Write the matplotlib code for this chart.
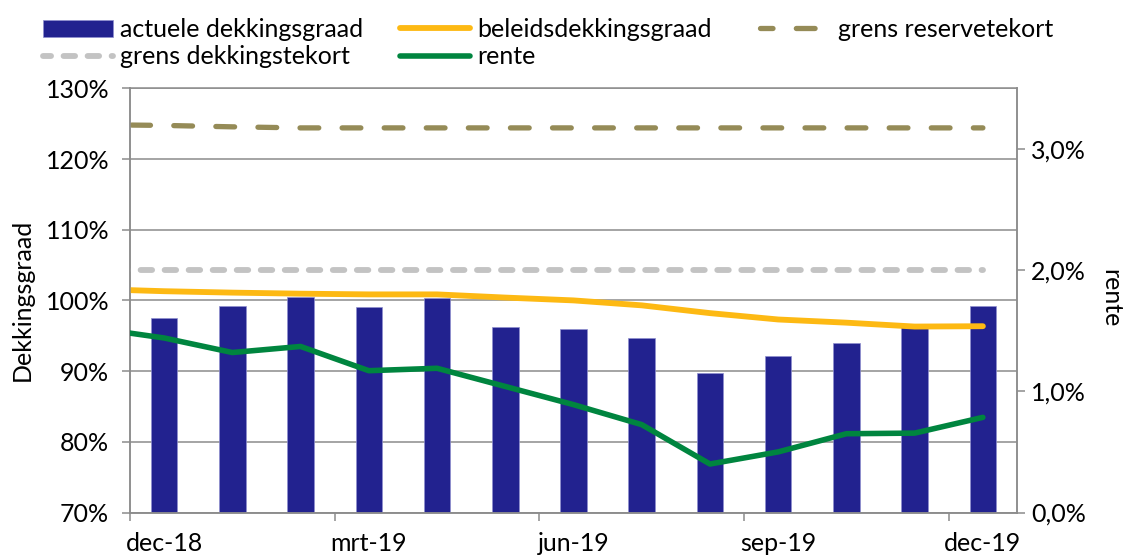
#!/usr/bin/env python3
"""Dekkingsgraad en rente, dec-18 t/m dec-19."""
import numpy as np
import matplotlib
matplotlib.use("Agg")
import matplotlib.pyplot as plt
from matplotlib.ticker import FuncFormatter, FixedLocator

plt.rcParams["font.family"] = ["Lato", "DejaVu Sans"]
plt.rcParams["lines.scale_dashes"] = False

# bars: one value per month
months = ["dec-18", "jan-19", "feb-19", "mrt-19", "apr-19", "mei-19", "jun-19",
          "jul-19", "aug-19", "sep-19", "okt-19", "nov-19", "dec-19"]
actuele_dg = [97.45, 99.15, 100.45, 99.05, 100.3, 96.2, 95.9,
              94.75, 89.75, 92.1, 94.0, 96.3, 99.2]

# line series start one month earlier (nov-18), clipped at the axis edge
line_months = ["nov-18"] + months
beleids_dg = [101.6, 101.3, 101.1, 100.95, 100.85, 100.85, 100.4, 100.0,
              99.3, 98.2, 97.3, 96.85, 96.3, 96.35]
grens_reserve = [124.85, 124.75, 124.55, 124.4, 124.4, 124.4, 124.4, 124.4,
                 124.4, 124.4, 124.4, 124.4, 124.4, 124.4]
grens_dekking = [104.3] * 14
rente = [1.52, 1.44, 1.32, 1.37, 1.17, 1.19, 1.04, 0.89,
         0.725, 0.40, 0.50, 0.65, 0.655, 0.785]

label_months = ["dec-18", "mrt-19", "jun-19", "sep-19", "dec-19"]

COLORS = {
    "bar": "#22228F",
    "beleid": "#FDB913",
    "reserve": "#958B57",
    "dekking": "#C3C3C3",
    "rente": "#00853F",
    "axis": "#8C8C8C",
}
FS = 18

fig = plt.figure(figsize=(11.29, 5.57), dpi=100)
ax = fig.add_axes([130 / 1129, 1 - 512.5 / 557, 887 / 1129, 424.2 / 557])
ax2 = ax.twinx()

x = np.arange(len(months))
lx = np.arange(len(line_months)) - 1

bars = ax.bar(x, actuele_dg, width=0.39, color=COLORS["bar"],
              edgecolor="#8f8fcf", linewidth=0.5, zorder=2,
              label="actuele dekkingsgraad")
ln_dek, = ax.plot(lx, grens_dekking, color=COLORS["dekking"], lw=4.2,
                  linestyle=(2.5, (8.3, 9.0)), dash_capstyle="round", zorder=3,
                  label="grens dekkingstekort")
ln_res, = ax.plot(lx, grens_reserve, color=COLORS["reserve"], lw=3.8,
                  linestyle=(4.5, (13.5, 16.8)), dash_capstyle="round", zorder=3,
                  label="grens reservetekort")
ln_bel, = ax.plot(lx, beleids_dg, color=COLORS["beleid"], lw=4.2,
                  solid_capstyle="round", zorder=4, label="beleidsdekkingsgraad")
ln_ren, = ax2.plot(lx, rente, color=COLORS["rente"], lw=4.0,
                   solid_capstyle="round", zorder=4, label="rente")

ax.set_xlim(-0.5, len(months) - 0.5)
ax.set_ylim(70, 130)
ax2.set_ylim(0, 3.5)

# left axis
ax.set_yticks(np.arange(70, 131, 10))
ax.yaxis.set_major_formatter(FuncFormatter(lambda v, p: f"{v:.0f}%"))
ax.grid(axis="y", color=COLORS["axis"], lw=1.1, zorder=0)
ax.set_axisbelow(True)
ax.tick_params(axis="y", length=6, width=1.1, color=COLORS["axis"], pad=9,
               labelsize=FS)

# right axis
ax2.set_yticks([0, 1, 2, 3])
ax2.yaxis.set_major_formatter(
    FuncFormatter(lambda v, p: f"{v:.1f}%".replace(".", ",")))
ax2.tick_params(axis="y", length=6, width=1.1, color=COLORS["axis"], pad=4,
                labelsize=FS)

# x axis: tick marks between quarters, labels on the month itself
ax.xaxis.set_major_locator(FixedLocator(np.arange(-0.5, len(months), 3)))
ax.set_xticklabels([])
ax.tick_params(axis="x", which="major", length=6, width=1.1, color=COLORS["axis"])
label_pos = [months.index(m) for m in label_months]
ax.xaxis.set_minor_locator(FixedLocator(label_pos))
ax.set_xticks(label_pos, label_months, minor=True)
ax.tick_params(axis="x", which="minor", length=0, pad=14, labelsize=FS)

for a in (ax, ax2):
    for s in a.spines.values():
        s.set_color(COLORS["axis"])
        s.set_linewidth(1.1)
ax2.spines["top"].set_visible(False)

fig.text(22 / 1129, 1 - 300 / 557, "Dekkingsgraad", rotation=90,
         ha="center", va="center", fontsize=FS)
fig.text(1111 / 1129, 1 - 298 / 557, "rente", rotation=270,
         ha="center", va="center", fontsize=FS)

# legend: three single-column blocks placed like the original
legend_cols = [
    (43, [bars, ln_dek]),
    (400, [ln_bel, ln_ren]),
    (760, [ln_res]),
]
for xpix, hs in legend_cols:
    leg = fig.legend(hs, [h.get_label() for h in hs], ncol=1,
                     loc="upper left", bbox_to_anchor=(xpix / 1129, 1 - 18 / 557),
                     frameon=False, fontsize=FS, handlelength=2.8,
                     handletextpad=0.3, labelspacing=0.17, borderpad=0,
                     borderaxespad=0)

fig.savefig("out.png", dpi=100)
